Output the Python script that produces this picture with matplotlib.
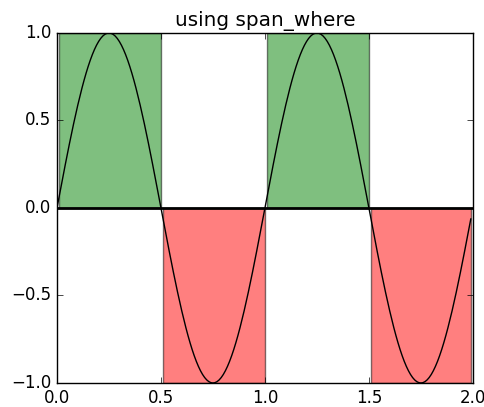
import numpy as np
import matplotlib
matplotlib.use("Agg")
import matplotlib.pyplot as plt

plt.style.use("classic")

# signal: one sine wave of unit amplitude, sampled every 0.01
t_start, t_stop, t_step = 0.0, 2.0, 0.01
freq = 1.0
amp = 1.0
t = np.arange(t_start, t_stop, t_step)
s = amp * np.sin(2 * np.pi * freq * t)

title = "using span_where"
xlim = [0.0, 2.0]
ylim = [-1.0, 1.0]

fig = plt.figure(figsize=(4.85, 4.07), dpi=100)
fig.patch.set_facecolor("white")
ax = fig.add_axes([0.1175, 0.059, 0.8575, 0.86])

ax.plot(t, s, color="black", lw=1)
ax.axhline(0, color="black", lw=2)

# spans where the signal is positive / negative
ax.fill_between(t, 0, 1, where=s > 0, facecolor="green", edgecolor="black",
                alpha=0.5, lw=1)
ax.fill_between(t, -1, 0, where=s < 0, facecolor="red", edgecolor="black",
                alpha=0.5, lw=1)

ax.set_xlim(xlim)
ax.set_ylim(ylim)
ax.set_xticks([0.0, 0.5, 1.0, 1.5, 2.0])
ax.set_yticks([-1.0, -0.5, 0.0, 0.5, 1.0])
ax.set_title(title)

fig.savefig("out.png", dpi=100, facecolor="white")
